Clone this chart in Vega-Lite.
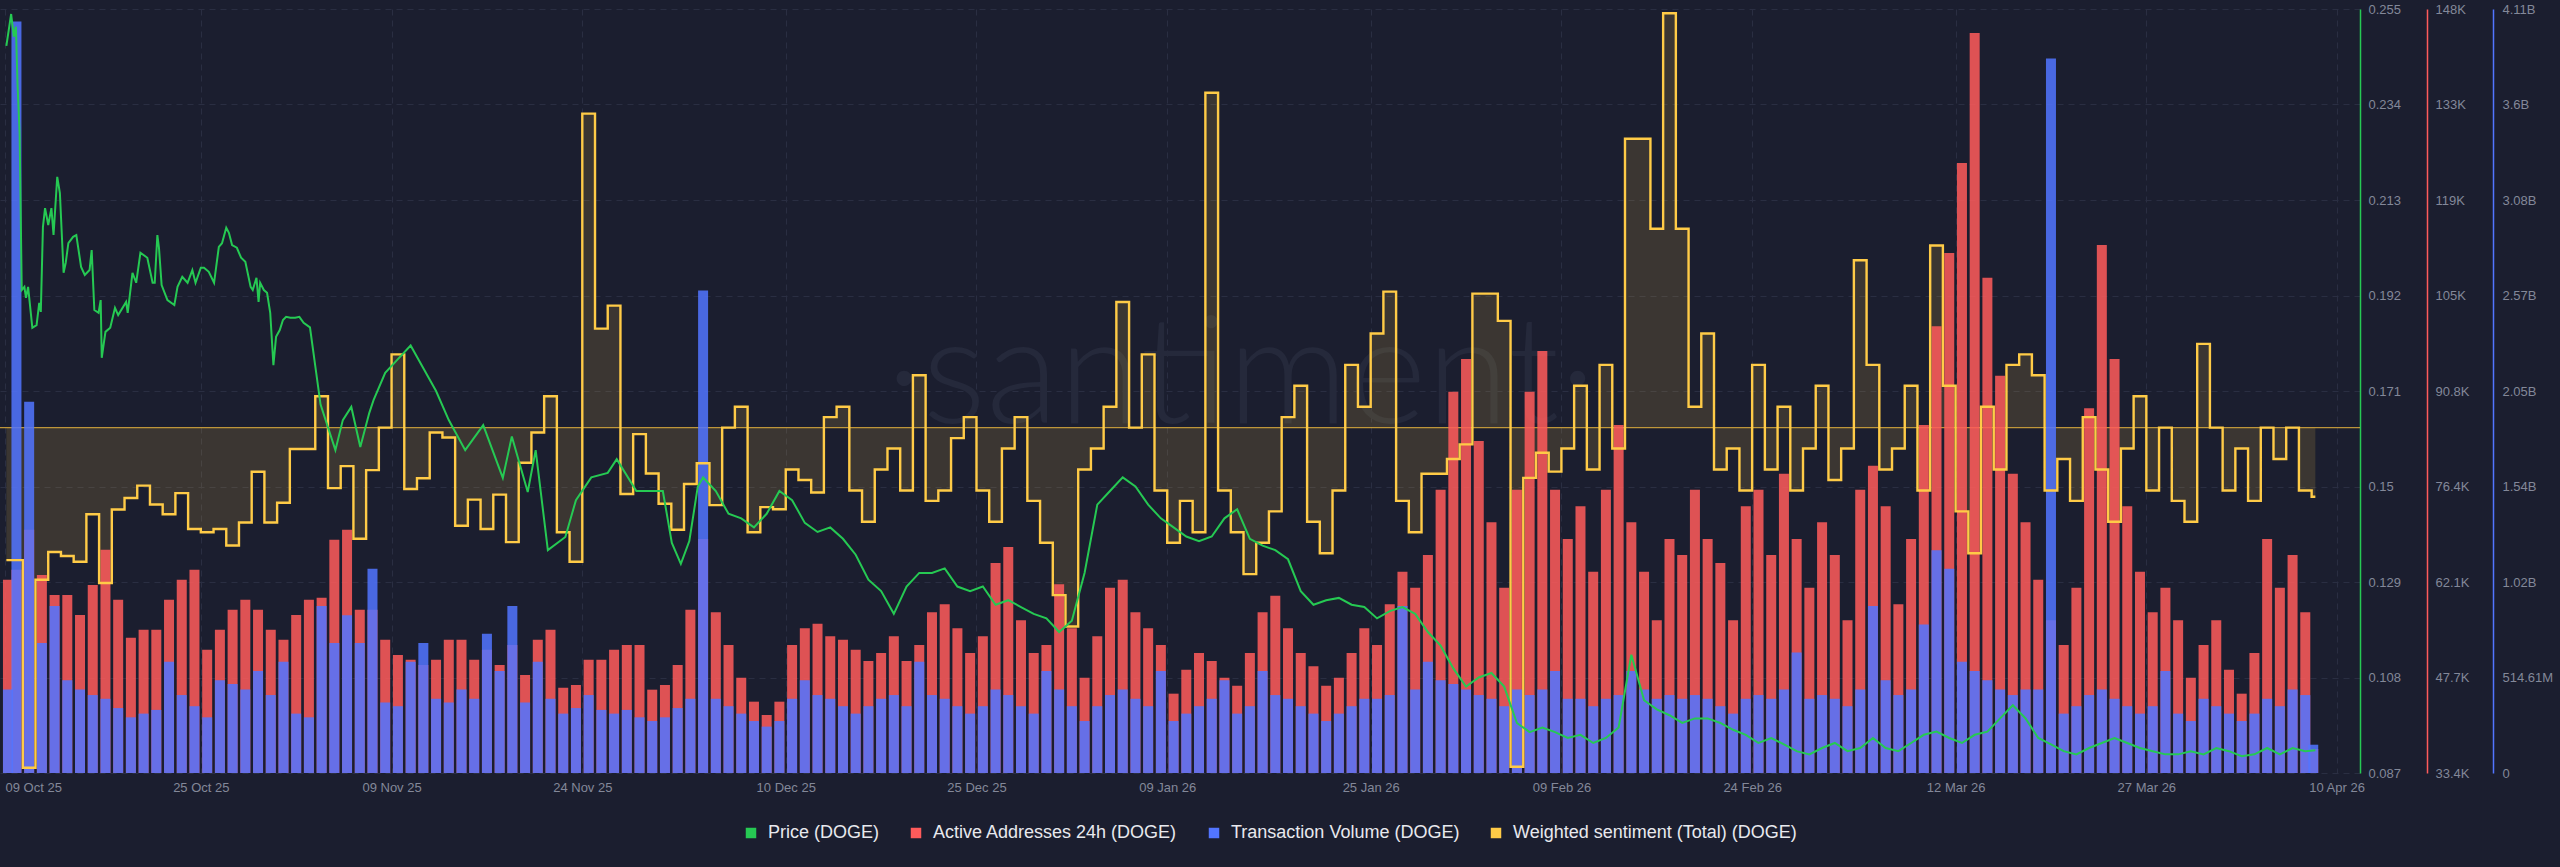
{
"$schema": "https://vega.github.io/schema/vega-lite/v6.json",
"width": 2360, "height": 764,
"autosize": {"type": "none"},
"padding": {"left": 0, "top": 9, "right": 200, "bottom": 94},
"background": "#1b1e2f",
"config": {
  "view": {"stroke": null},
  "font": "Liberation Sans",
  "axis": {"labelFont": "Liberation Sans", "labelFontSize": 13, "labelColor": "#838899", "ticks": false, "domain": false, "title": null, "labelOverlap": false, "gridColor": "#2a2e42", "gridDash": [6, 5], "gridWidth": 1}
},
"datasets": {
"bars": [
{"date":"2025-10-09T20:00:00Z","aa":62400,"vol":450000000},
{"date":"2025-10-10T12:00:00Z","aa":63900,"vol":4050000000},
{"date":"2025-10-11T12:00:00Z","aa":69900,"vol":2000000000},
{"date":"2025-10-12T12:00:00Z","aa":63100,"vol":700000000},
{"date":"2025-10-13T12:00:00Z","aa":60100,"vol":900000000},
{"date":"2025-10-14T12:00:00Z","aa":60100,"vol":500000000},
{"date":"2025-10-15T12:00:00Z","aa":57100,"vol":450000000},
{"date":"2025-10-16T12:00:00Z","aa":61600,"vol":420000000},
{"date":"2025-10-17T12:00:00Z","aa":66900,"vol":400000000},
{"date":"2025-10-18T12:00:00Z","aa":59400,"vol":350000000},
{"date":"2025-10-19T12:00:00Z","aa":53700,"vol":300000000},
{"date":"2025-10-20T12:00:00Z","aa":54900,"vol":320000000},
{"date":"2025-10-21T12:00:00Z","aa":54900,"vol":340000000},
{"date":"2025-10-22T12:00:00Z","aa":59400,"vol":600000000},
{"date":"2025-10-23T12:00:00Z","aa":62400,"vol":420000000},
{"date":"2025-10-24T12:00:00Z","aa":63900,"vol":360000000},
{"date":"2025-10-25T12:00:00Z","aa":51900,"vol":300000000},
{"date":"2025-10-26T12:00:00Z","aa":54900,"vol":500000000},
{"date":"2025-10-27T12:00:00Z","aa":57900,"vol":480000000},
{"date":"2025-10-28T12:00:00Z","aa":59400,"vol":450000000},
{"date":"2025-10-29T12:00:00Z","aa":57900,"vol":550000000},
{"date":"2025-10-30T12:00:00Z","aa":54900,"vol":420000000},
{"date":"2025-10-31T12:00:00Z","aa":53400,"vol":600000000},
{"date":"2025-11-01T12:00:00Z","aa":57100,"vol":320000000},
{"date":"2025-11-02T12:00:00Z","aa":59400,"vol":300000000},
{"date":"2025-11-03T12:00:00Z","aa":59700,"vol":900000000},
{"date":"2025-11-04T12:00:00Z","aa":68400,"vol":700000000},
{"date":"2025-11-05T12:00:00Z","aa":69900,"vol":850000000},
{"date":"2025-11-06T12:00:00Z","aa":57900,"vol":700000000},
{"date":"2025-11-07T12:00:00Z","aa":57900,"vol":1100000000},
{"date":"2025-11-08T12:00:00Z","aa":53400,"vol":380000000},
{"date":"2025-11-09T12:00:00Z","aa":51100,"vol":360000000},
{"date":"2025-11-10T12:00:00Z","aa":50400,"vol":600000000},
{"date":"2025-11-11T12:00:00Z","aa":49600,"vol":700000000},
{"date":"2025-11-12T12:00:00Z","aa":50400,"vol":400000000},
{"date":"2025-11-13T12:00:00Z","aa":53400,"vol":380000000},
{"date":"2025-11-14T12:00:00Z","aa":53400,"vol":450000000},
{"date":"2025-11-15T12:00:00Z","aa":50400,"vol":400000000},
{"date":"2025-11-16T12:00:00Z","aa":51900,"vol":750000000},
{"date":"2025-11-17T12:00:00Z","aa":49600,"vol":550000000},
{"date":"2025-11-18T12:00:00Z","aa":52600,"vol":900000000},
{"date":"2025-11-19T12:00:00Z","aa":48100,"vol":380000000},
{"date":"2025-11-20T12:00:00Z","aa":53400,"vol":600000000},
{"date":"2025-11-21T12:00:00Z","aa":54900,"vol":400000000},
{"date":"2025-11-22T12:00:00Z","aa":46200,"vol":320000000},
{"date":"2025-11-23T12:00:00Z","aa":46600,"vol":350000000},
{"date":"2025-11-24T12:00:00Z","aa":50400,"vol":420000000},
{"date":"2025-11-25T12:00:00Z","aa":50400,"vol":340000000},
{"date":"2025-11-26T12:00:00Z","aa":51900,"vol":320000000},
{"date":"2025-11-27T12:00:00Z","aa":52600,"vol":340000000},
{"date":"2025-11-28T12:00:00Z","aa":52600,"vol":300000000},
{"date":"2025-11-29T12:00:00Z","aa":45900,"vol":280000000},
{"date":"2025-11-30T12:00:00Z","aa":46600,"vol":300000000},
{"date":"2025-12-01T12:00:00Z","aa":49600,"vol":350000000},
{"date":"2025-12-02T12:00:00Z","aa":57900,"vol":400000000},
{"date":"2025-12-03T12:00:00Z","aa":68500,"vol":2600000000},
{"date":"2025-12-04T12:00:00Z","aa":57500,"vol":400000000},
{"date":"2025-12-05T12:00:00Z","aa":52600,"vol":360000000},
{"date":"2025-12-06T12:00:00Z","aa":47700,"vol":320000000},
{"date":"2025-12-07T12:00:00Z","aa":44100,"vol":280000000},
{"date":"2025-12-08T12:00:00Z","aa":42100,"vol":250000000},
{"date":"2025-12-09T12:00:00Z","aa":44100,"vol":280000000},
{"date":"2025-12-10T12:00:00Z","aa":52600,"vol":400000000},
{"date":"2025-12-11T12:00:00Z","aa":55100,"vol":500000000},
{"date":"2025-12-12T12:00:00Z","aa":55800,"vol":420000000},
{"date":"2025-12-13T12:00:00Z","aa":53900,"vol":400000000},
{"date":"2025-12-14T12:00:00Z","aa":53400,"vol":360000000},
{"date":"2025-12-15T12:00:00Z","aa":51900,"vol":320000000},
{"date":"2025-12-16T12:00:00Z","aa":50200,"vol":360000000},
{"date":"2025-12-17T12:00:00Z","aa":51400,"vol":400000000},
{"date":"2025-12-18T12:00:00Z","aa":53900,"vol":420000000},
{"date":"2025-12-19T12:00:00Z","aa":50200,"vol":360000000},
{"date":"2025-12-20T12:00:00Z","aa":52600,"vol":600000000},
{"date":"2025-12-21T12:00:00Z","aa":57500,"vol":420000000},
{"date":"2025-12-22T12:00:00Z","aa":58700,"vol":400000000},
{"date":"2025-12-23T12:00:00Z","aa":55100,"vol":360000000},
{"date":"2025-12-24T12:00:00Z","aa":51400,"vol":320000000},
{"date":"2025-12-25T12:00:00Z","aa":53900,"vol":360000000},
{"date":"2025-12-26T12:00:00Z","aa":64900,"vol":450000000},
{"date":"2025-12-27T12:00:00Z","aa":67300,"vol":420000000},
{"date":"2025-12-28T12:00:00Z","aa":56300,"vol":360000000},
{"date":"2025-12-29T12:00:00Z","aa":51400,"vol":320000000},
{"date":"2025-12-30T12:00:00Z","aa":52600,"vol":550000000},
{"date":"2025-12-31T12:00:00Z","aa":61700,"vol":450000000},
{"date":"2026-01-01T12:00:00Z","aa":55100,"vol":360000000},
{"date":"2026-01-02T12:00:00Z","aa":47700,"vol":280000000},
{"date":"2026-01-03T12:00:00Z","aa":53900,"vol":360000000},
{"date":"2026-01-04T12:00:00Z","aa":61200,"vol":420000000},
{"date":"2026-01-05T12:00:00Z","aa":62400,"vol":450000000},
{"date":"2026-01-06T12:00:00Z","aa":57500,"vol":400000000},
{"date":"2026-01-07T12:00:00Z","aa":55100,"vol":360000000},
{"date":"2026-01-08T12:00:00Z","aa":52600,"vol":550000000},
{"date":"2026-01-09T12:00:00Z","aa":45300,"vol":280000000},
{"date":"2026-01-10T12:00:00Z","aa":48900,"vol":320000000},
{"date":"2026-01-11T12:00:00Z","aa":51400,"vol":360000000},
{"date":"2026-01-12T12:00:00Z","aa":50200,"vol":400000000},
{"date":"2026-01-13T12:00:00Z","aa":47700,"vol":500000000},
{"date":"2026-01-14T12:00:00Z","aa":46500,"vol":320000000},
{"date":"2026-01-15T12:00:00Z","aa":51400,"vol":360000000},
{"date":"2026-01-16T12:00:00Z","aa":57500,"vol":550000000},
{"date":"2026-01-17T12:00:00Z","aa":60000,"vol":420000000},
{"date":"2026-01-18T12:00:00Z","aa":55100,"vol":400000000},
{"date":"2026-01-19T12:00:00Z","aa":51400,"vol":360000000},
{"date":"2026-01-20T12:00:00Z","aa":49400,"vol":320000000},
{"date":"2026-01-21T12:00:00Z","aa":46500,"vol":280000000},
{"date":"2026-01-22T12:00:00Z","aa":47700,"vol":320000000},
{"date":"2026-01-23T12:00:00Z","aa":51400,"vol":360000000},
{"date":"2026-01-24T12:00:00Z","aa":55100,"vol":400000000},
{"date":"2026-01-25T12:00:00Z","aa":52600,"vol":400000000},
{"date":"2026-01-26T12:00:00Z","aa":58700,"vol":420000000},
{"date":"2026-01-27T12:00:00Z","aa":63600,"vol":900000000},
{"date":"2026-01-28T12:00:00Z","aa":61200,"vol":450000000},
{"date":"2026-01-29T12:00:00Z","aa":66100,"vol":600000000},
{"date":"2026-01-30T12:00:00Z","aa":75900,"vol":500000000},
{"date":"2026-01-31T12:00:00Z","aa":90600,"vol":480000000},
{"date":"2026-02-01T12:00:00Z","aa":95500,"vol":450000000},
{"date":"2026-02-02T12:00:00Z","aa":83200,"vol":420000000},
{"date":"2026-02-03T12:00:00Z","aa":71000,"vol":400000000},
{"date":"2026-02-04T12:00:00Z","aa":61200,"vol":360000000},
{"date":"2026-02-05T12:00:00Z","aa":75900,"vol":450000000},
{"date":"2026-02-06T12:00:00Z","aa":90600,"vol":420000000},
{"date":"2026-02-07T12:00:00Z","aa":96700,"vol":450000000},
{"date":"2026-02-08T12:00:00Z","aa":75900,"vol":550000000},
{"date":"2026-02-09T12:00:00Z","aa":68500,"vol":400000000},
{"date":"2026-02-10T12:00:00Z","aa":73400,"vol":400000000},
{"date":"2026-02-11T12:00:00Z","aa":63600,"vol":360000000},
{"date":"2026-02-12T12:00:00Z","aa":75900,"vol":400000000},
{"date":"2026-02-13T12:00:00Z","aa":85600,"vol":420000000},
{"date":"2026-02-14T12:00:00Z","aa":71000,"vol":550000000},
{"date":"2026-02-15T12:00:00Z","aa":63600,"vol":450000000},
{"date":"2026-02-16T12:00:00Z","aa":56300,"vol":400000000},
{"date":"2026-02-17T12:00:00Z","aa":68500,"vol":420000000},
{"date":"2026-02-18T12:00:00Z","aa":66100,"vol":400000000},
{"date":"2026-02-19T12:00:00Z","aa":75900,"vol":420000000},
{"date":"2026-02-20T12:00:00Z","aa":68500,"vol":400000000},
{"date":"2026-02-21T12:00:00Z","aa":64900,"vol":360000000},
{"date":"2026-02-22T12:00:00Z","aa":56300,"vol":320000000},
{"date":"2026-02-23T12:00:00Z","aa":73400,"vol":400000000},
{"date":"2026-02-24T12:00:00Z","aa":75900,"vol":420000000},
{"date":"2026-02-25T12:00:00Z","aa":66100,"vol":400000000},
{"date":"2026-02-26T12:00:00Z","aa":78300,"vol":450000000},
{"date":"2026-02-27T12:00:00Z","aa":68500,"vol":650000000},
{"date":"2026-02-28T12:00:00Z","aa":61200,"vol":400000000},
{"date":"2026-03-01T12:00:00Z","aa":71000,"vol":420000000},
{"date":"2026-03-02T12:00:00Z","aa":66100,"vol":400000000},
{"date":"2026-03-03T12:00:00Z","aa":56300,"vol":360000000},
{"date":"2026-03-04T12:00:00Z","aa":75900,"vol":450000000},
{"date":"2026-03-05T12:00:00Z","aa":79500,"vol":900000000},
{"date":"2026-03-06T12:00:00Z","aa":73400,"vol":500000000},
{"date":"2026-03-07T12:00:00Z","aa":58700,"vol":420000000},
{"date":"2026-03-08T12:00:00Z","aa":68500,"vol":450000000},
{"date":"2026-03-09T12:00:00Z","aa":85600,"vol":800000000},
{"date":"2026-03-10T12:00:00Z","aa":100400,"vol":1200000000},
{"date":"2026-03-11T12:00:00Z","aa":111400,"vol":1100000000},
{"date":"2026-03-12T12:00:00Z","aa":124900,"vol":600000000},
{"date":"2026-03-13T12:00:00Z","aa":144400,"vol":550000000},
{"date":"2026-03-14T12:00:00Z","aa":107700,"vol":500000000},
{"date":"2026-03-15T12:00:00Z","aa":93000,"vol":450000000},
{"date":"2026-03-16T12:00:00Z","aa":78300,"vol":420000000},
{"date":"2026-03-17T12:00:00Z","aa":71000,"vol":450000000},
{"date":"2026-03-18T12:00:00Z","aa":62400,"vol":450000000},
{"date":"2026-03-19T12:00:00Z","aa":56300,"vol":3850000000},
{"date":"2026-03-20T12:00:00Z","aa":52600,"vol":320000000},
{"date":"2026-03-21T12:00:00Z","aa":61200,"vol":360000000},
{"date":"2026-03-22T12:00:00Z","aa":88100,"vol":420000000},
{"date":"2026-03-23T12:00:00Z","aa":112600,"vol":450000000},
{"date":"2026-03-24T12:00:00Z","aa":95500,"vol":400000000},
{"date":"2026-03-25T12:00:00Z","aa":73400,"vol":360000000},
{"date":"2026-03-26T12:00:00Z","aa":63600,"vol":320000000},
{"date":"2026-03-27T12:00:00Z","aa":57500,"vol":360000000},
{"date":"2026-03-28T12:00:00Z","aa":61200,"vol":550000000},
{"date":"2026-03-29T12:00:00Z","aa":56300,"vol":320000000},
{"date":"2026-03-30T12:00:00Z","aa":47700,"vol":280000000},
{"date":"2026-03-31T12:00:00Z","aa":52600,"vol":400000000},
{"date":"2026-04-01T12:00:00Z","aa":56300,"vol":360000000},
{"date":"2026-04-02T12:00:00Z","aa":48900,"vol":320000000},
{"date":"2026-04-03T12:00:00Z","aa":45300,"vol":280000000},
{"date":"2026-04-04T12:00:00Z","aa":51400,"vol":320000000},
{"date":"2026-04-05T12:00:00Z","aa":68500,"vol":400000000},
{"date":"2026-04-06T12:00:00Z","aa":61200,"vol":360000000},
{"date":"2026-04-07T12:00:00Z","aa":66100,"vol":450000000},
{"date":"2026-04-08T12:00:00Z","aa":57500,"vol":420000000},
{"date":"2026-04-09T03:00:00Z","aa":37000,"vol":152460000}
],
"price": [
{"date":"2025-10-09T17:00:00Z","price":0.2469},
{"date":"2025-10-10T02:00:00Z","price":0.2539},
{"date":"2025-10-10T07:00:00Z","price":0.2489},
{"date":"2025-10-10T11:00:00Z","price":0.2511},
{"date":"2025-10-10T14:00:00Z","price":0.2387},
{"date":"2025-10-10T18:00:00Z","price":0.2277},
{"date":"2025-10-10T22:00:00Z","price":0.1932},
{"date":"2025-10-11T03:00:00Z","price":0.1939},
{"date":"2025-10-11T06:00:00Z","price":0.1915},
{"date":"2025-10-11T10:00:00Z","price":0.1939},
{"date":"2025-10-11T18:00:00Z","price":0.1849},
{"date":"2025-10-12T02:00:00Z","price":0.1855},
{"date":"2025-10-12T07:00:00Z","price":0.1904},
{"date":"2025-10-12T10:00:00Z","price":0.1884},
{"date":"2025-10-12T14:00:00Z","price":0.2071},
{"date":"2025-10-12T18:00:00Z","price":0.2112},
{"date":"2025-10-13T00:00:00Z","price":0.2075},
{"date":"2025-10-13T06:00:00Z","price":0.2112},
{"date":"2025-10-13T10:00:00Z","price":0.2053},
{"date":"2025-10-13T17:00:00Z","price":0.2181},
{"date":"2025-10-13T22:00:00Z","price":0.2145},
{"date":"2025-10-14T05:00:00Z","price":0.1970},
{"date":"2025-10-14T09:00:00Z","price":0.1992},
{"date":"2025-10-14T14:00:00Z","price":0.2035},
{"date":"2025-10-14T23:00:00Z","price":0.2049},
{"date":"2025-10-15T05:00:00Z","price":0.2053},
{"date":"2025-10-15T14:00:00Z","price":0.1983},
{"date":"2025-10-15T21:00:00Z","price":0.1965},
{"date":"2025-10-16T06:00:00Z","price":0.1976},
{"date":"2025-10-16T10:00:00Z","price":0.2020},
{"date":"2025-10-16T15:00:00Z","price":0.1888},
{"date":"2025-10-16T23:00:00Z","price":0.1882},
{"date":"2025-10-17T03:00:00Z","price":0.1910},
{"date":"2025-10-17T05:00:00Z","price":0.1783},
{"date":"2025-10-17T12:00:00Z","price":0.1840},
{"date":"2025-10-17T21:00:00Z","price":0.1849},
{"date":"2025-10-18T06:00:00Z","price":0.1893},
{"date":"2025-10-18T12:00:00Z","price":0.1877},
{"date":"2025-10-19T03:00:00Z","price":0.1906},
{"date":"2025-10-19T06:00:00Z","price":0.1882},
{"date":"2025-10-19T15:00:00Z","price":0.1970},
{"date":"2025-10-19T22:00:00Z","price":0.1948},
{"date":"2025-10-20T06:00:00Z","price":0.2014},
{"date":"2025-10-20T19:00:00Z","price":0.2003},
{"date":"2025-10-21T05:00:00Z","price":0.1948},
{"date":"2025-10-21T09:00:00Z","price":0.1948},
{"date":"2025-10-21T14:00:00Z","price":0.2053},
{"date":"2025-10-21T17:00:00Z","price":0.2025},
{"date":"2025-10-21T22:00:00Z","price":0.1943},
{"date":"2025-10-22T09:00:00Z","price":0.1910},
{"date":"2025-10-22T22:00:00Z","price":0.1899},
{"date":"2025-10-23T04:00:00Z","price":0.1939},
{"date":"2025-10-23T13:00:00Z","price":0.1961},
{"date":"2025-10-23T23:00:00Z","price":0.1948},
{"date":"2025-10-24T08:00:00Z","price":0.1976},
{"date":"2025-10-24T14:00:00Z","price":0.1948},
{"date":"2025-10-25T00:00:00Z","price":0.1981},
{"date":"2025-10-25T06:00:00Z","price":0.1981},
{"date":"2025-10-25T15:00:00Z","price":0.1972},
{"date":"2025-10-26T01:00:00Z","price":0.1948},
{"date":"2025-10-26T10:00:00Z","price":0.2027},
{"date":"2025-10-26T16:00:00Z","price":0.2035},
{"date":"2025-10-27T00:00:00Z","price":0.2069},
{"date":"2025-10-27T05:00:00Z","price":0.2058},
{"date":"2025-10-27T11:00:00Z","price":0.2031},
{"date":"2025-10-27T20:00:00Z","price":0.2025},
{"date":"2025-10-28T04:00:00Z","price":0.2003},
{"date":"2025-10-28T12:00:00Z","price":0.1994},
{"date":"2025-10-28T22:00:00Z","price":0.1939},
{"date":"2025-10-29T02:00:00Z","price":0.1932},
{"date":"2025-10-29T09:00:00Z","price":0.1959},
{"date":"2025-10-29T13:00:00Z","price":0.1906},
{"date":"2025-10-29T16:00:00Z","price":0.1948},
{"date":"2025-10-29T23:00:00Z","price":0.1932},
{"date":"2025-10-30T05:00:00Z","price":0.1926},
{"date":"2025-10-30T11:00:00Z","price":0.1882},
{"date":"2025-10-30T17:00:00Z","price":0.1767},
{"date":"2025-10-30T22:00:00Z","price":0.1829},
{"date":"2025-10-31T05:00:00Z","price":0.1844},
{"date":"2025-10-31T11:00:00Z","price":0.1866},
{"date":"2025-10-31T17:00:00Z","price":0.1873},
{"date":"2025-11-01T01:00:00Z","price":0.1871},
{"date":"2025-11-01T10:00:00Z","price":0.1871},
{"date":"2025-11-01T18:00:00Z","price":0.1873},
{"date":"2025-11-02T02:00:00Z","price":0.1860},
{"date":"2025-11-02T14:00:00Z","price":0.1850},
{"date":"2025-11-03T10:00:00Z","price":0.1680},
{"date":"2025-11-04T14:00:00Z","price":0.1580},
{"date":"2025-11-05T04:00:00Z","price":0.1646},
{"date":"2025-11-05T20:00:00Z","price":0.1675},
{"date":"2025-11-06T13:00:00Z","price":0.1587},
{"date":"2025-11-07T06:00:00Z","price":0.1662},
{"date":"2025-11-07T14:00:00Z","price":0.1690},
{"date":"2025-11-08T12:00:00Z","price":0.1750},
{"date":"2025-11-09T12:00:00Z","price":0.1780},
{"date":"2025-11-10T12:00:00Z","price":0.1810},
{"date":"2025-11-11T12:00:00Z","price":0.1760},
{"date":"2025-11-12T12:00:00Z","price":0.1710},
{"date":"2025-11-13T12:00:00Z","price":0.1646},
{"date":"2025-11-14T19:00:00Z","price":0.1580},
{"date":"2025-11-16T05:00:00Z","price":0.1635},
{"date":"2025-11-17T18:00:00Z","price":0.1519},
{"date":"2025-11-18T11:00:00Z","price":0.1610},
{"date":"2025-11-19T17:00:00Z","price":0.1488},
{"date":"2025-11-20T08:00:00Z","price":0.1580},
{"date":"2025-11-21T07:00:00Z","price":0.1360},
{"date":"2025-11-22T16:00:00Z","price":0.1389},
{"date":"2025-11-23T12:00:00Z","price":0.1470},
{"date":"2025-11-24T17:00:00Z","price":0.1520},
{"date":"2025-11-26T00:00:00Z","price":0.1530},
{"date":"2025-11-26T17:00:00Z","price":0.1560},
{"date":"2025-11-28T06:00:00Z","price":0.1490},
{"date":"2025-11-30T08:00:00Z","price":0.1490},
{"date":"2025-12-01T01:00:00Z","price":0.1376},
{"date":"2025-12-01T18:00:00Z","price":0.1330},
{"date":"2025-12-02T10:00:00Z","price":0.1380},
{"date":"2025-12-03T02:00:00Z","price":0.1500},
{"date":"2025-12-03T12:00:00Z","price":0.1520},
{"date":"2025-12-04T12:00:00Z","price":0.149},
{"date":"2025-12-05T12:00:00Z","price":0.144},
{"date":"2025-12-06T12:00:00Z","price":0.143},
{"date":"2025-12-07T12:00:00Z","price":0.141},
{"date":"2025-12-08T12:00:00Z","price":0.144},
{"date":"2025-12-09T12:00:00Z","price":0.149},
{"date":"2025-12-10T12:00:00Z","price":0.147},
{"date":"2025-12-11T12:00:00Z","price":0.142},
{"date":"2025-12-12T12:00:00Z","price":0.140},
{"date":"2025-12-13T12:00:00Z","price":0.141},
{"date":"2025-12-14T12:00:00Z","price":0.1385},
{"date":"2025-12-15T12:00:00Z","price":0.135},
{"date":"2025-12-16T12:00:00Z","price":0.1295},
{"date":"2025-12-17T12:00:00Z","price":0.127},
{"date":"2025-12-18T12:00:00Z","price":0.122},
{"date":"2025-12-19T12:00:00Z","price":0.128},
{"date":"2025-12-20T12:00:00Z","price":0.131},
{"date":"2025-12-21T12:00:00Z","price":0.131},
{"date":"2025-12-22T12:00:00Z","price":0.132},
{"date":"2025-12-23T12:00:00Z","price":0.128},
{"date":"2025-12-24T12:00:00Z","price":0.127},
{"date":"2025-12-25T12:00:00Z","price":0.128},
{"date":"2025-12-26T12:00:00Z","price":0.124},
{"date":"2025-12-27T12:00:00Z","price":0.125},
{"date":"2025-12-28T12:00:00Z","price":0.1235},
{"date":"2025-12-29T12:00:00Z","price":0.122},
{"date":"2025-12-30T12:00:00Z","price":0.121},
{"date":"2025-12-31T12:00:00Z","price":0.118},
{"date":"2026-01-01T12:00:00Z","price":0.1205},
{"date":"2026-01-02T12:00:00Z","price":0.131},
{"date":"2026-01-03T12:00:00Z","price":0.146},
{"date":"2026-01-04T12:00:00Z","price":0.149},
{"date":"2026-01-05T12:00:00Z","price":0.152},
{"date":"2026-01-06T12:00:00Z","price":0.150},
{"date":"2026-01-07T12:00:00Z","price":0.146},
{"date":"2026-01-08T12:00:00Z","price":0.143},
{"date":"2026-01-09T12:00:00Z","price":0.141},
{"date":"2026-01-10T12:00:00Z","price":0.139},
{"date":"2026-01-11T12:00:00Z","price":0.138},
{"date":"2026-01-12T12:00:00Z","price":0.139},
{"date":"2026-01-13T12:00:00Z","price":0.143},
{"date":"2026-01-14T12:00:00Z","price":0.145},
{"date":"2026-01-15T12:00:00Z","price":0.1385},
{"date":"2026-01-16T12:00:00Z","price":0.137},
{"date":"2026-01-17T12:00:00Z","price":0.136},
{"date":"2026-01-18T12:00:00Z","price":0.134},
{"date":"2026-01-19T12:00:00Z","price":0.127},
{"date":"2026-01-20T12:00:00Z","price":0.124},
{"date":"2026-01-21T12:00:00Z","price":0.125},
{"date":"2026-01-22T12:00:00Z","price":0.1255},
{"date":"2026-01-23T12:00:00Z","price":0.124},
{"date":"2026-01-24T12:00:00Z","price":0.1235},
{"date":"2026-01-25T12:00:00Z","price":0.121},
{"date":"2026-01-26T12:00:00Z","price":0.1226},
{"date":"2026-01-27T12:00:00Z","price":0.1235},
{"date":"2026-01-28T12:00:00Z","price":0.122},
{"date":"2026-01-29T12:00:00Z","price":0.118},
{"date":"2026-01-30T12:00:00Z","price":0.115},
{"date":"2026-01-31T12:00:00Z","price":0.110},
{"date":"2026-02-01T12:00:00Z","price":0.106},
{"date":"2026-02-02T12:00:00Z","price":0.108},
{"date":"2026-02-03T12:00:00Z","price":0.109},
{"date":"2026-02-04T12:00:00Z","price":0.106},
{"date":"2026-02-05T12:00:00Z","price":0.098},
{"date":"2026-02-06T12:00:00Z","price":0.096},
{"date":"2026-02-07T12:00:00Z","price":0.097},
{"date":"2026-02-08T12:00:00Z","price":0.096},
{"date":"2026-02-09T12:00:00Z","price":0.0947},
{"date":"2026-02-10T12:00:00Z","price":0.0954},
{"date":"2026-02-11T12:00:00Z","price":0.0936},
{"date":"2026-02-12T12:00:00Z","price":0.0947},
{"date":"2026-02-13T12:00:00Z","price":0.097},
{"date":"2026-02-14T12:00:00Z","price":0.113},
{"date":"2026-02-15T12:00:00Z","price":0.103},
{"date":"2026-02-16T12:00:00Z","price":0.101},
{"date":"2026-02-17T12:00:00Z","price":0.0997},
{"date":"2026-02-18T12:00:00Z","price":0.098},
{"date":"2026-02-19T12:00:00Z","price":0.099},
{"date":"2026-02-20T12:00:00Z","price":0.099},
{"date":"2026-02-21T12:00:00Z","price":0.098},
{"date":"2026-02-22T12:00:00Z","price":0.0965},
{"date":"2026-02-23T12:00:00Z","price":0.0954},
{"date":"2026-02-24T12:00:00Z","price":0.0936},
{"date":"2026-02-25T12:00:00Z","price":0.0947},
{"date":"2026-02-26T12:00:00Z","price":0.0933},
{"date":"2026-02-27T12:00:00Z","price":0.0918},
{"date":"2026-02-28T12:00:00Z","price":0.0911},
{"date":"2026-03-01T12:00:00Z","price":0.0925},
{"date":"2026-03-02T12:00:00Z","price":0.0936},
{"date":"2026-03-03T12:00:00Z","price":0.0918},
{"date":"2026-03-04T12:00:00Z","price":0.0925},
{"date":"2026-03-05T12:00:00Z","price":0.0947},
{"date":"2026-03-06T12:00:00Z","price":0.0925},
{"date":"2026-03-07T12:00:00Z","price":0.0918},
{"date":"2026-03-08T12:00:00Z","price":0.0936},
{"date":"2026-03-09T12:00:00Z","price":0.0954},
{"date":"2026-03-10T12:00:00Z","price":0.0961},
{"date":"2026-03-11T12:00:00Z","price":0.0947},
{"date":"2026-03-12T12:00:00Z","price":0.0936},
{"date":"2026-03-13T12:00:00Z","price":0.0954},
{"date":"2026-03-14T12:00:00Z","price":0.0961},
{"date":"2026-03-15T12:00:00Z","price":0.099},
{"date":"2026-03-16T12:00:00Z","price":0.1019},
{"date":"2026-03-17T12:00:00Z","price":0.099},
{"date":"2026-03-18T12:00:00Z","price":0.0947},
{"date":"2026-03-19T12:00:00Z","price":0.0933},
{"date":"2026-03-20T12:00:00Z","price":0.0918},
{"date":"2026-03-21T12:00:00Z","price":0.0911},
{"date":"2026-03-22T12:00:00Z","price":0.0925},
{"date":"2026-03-23T12:00:00Z","price":0.0936},
{"date":"2026-03-24T12:00:00Z","price":0.0947},
{"date":"2026-03-25T12:00:00Z","price":0.0936},
{"date":"2026-03-26T12:00:00Z","price":0.0925},
{"date":"2026-03-27T12:00:00Z","price":0.0918},
{"date":"2026-03-28T12:00:00Z","price":0.0911},
{"date":"2026-03-29T12:00:00Z","price":0.0911},
{"date":"2026-03-30T12:00:00Z","price":0.0918},
{"date":"2026-03-31T12:00:00Z","price":0.0911},
{"date":"2026-04-01T12:00:00Z","price":0.0925},
{"date":"2026-04-02T12:00:00Z","price":0.0918},
{"date":"2026-04-03T12:00:00Z","price":0.0907},
{"date":"2026-04-04T12:00:00Z","price":0.0911},
{"date":"2026-04-05T12:00:00Z","price":0.0925},
{"date":"2026-04-06T12:00:00Z","price":0.0911},
{"date":"2026-04-07T12:00:00Z","price":0.0925},
{"date":"2026-04-08T12:00:00Z","price":0.0918},
{"date":"2026-04-09T07:00:00Z","price":0.0920}
],
"sent": [
{"date":"2025-10-09T17:00:00Z","sent":-0.633},
{"date":"2025-10-10T00:00:00Z","sent":-0.633},
{"date":"2025-10-11T00:00:00Z","sent":-1.625},
{"date":"2025-10-12T00:00:00Z","sent":-0.727},
{"date":"2025-10-13T00:00:00Z","sent":-0.594},
{"date":"2025-10-14T00:00:00Z","sent":-0.613},
{"date":"2025-10-15T00:00:00Z","sent":-0.641},
{"date":"2025-10-16T00:00:00Z","sent":-0.414},
{"date":"2025-10-17T00:00:00Z","sent":-0.742},
{"date":"2025-10-18T00:00:00Z","sent":-0.391},
{"date":"2025-10-19T00:00:00Z","sent":-0.336},
{"date":"2025-10-20T00:00:00Z","sent":-0.277},
{"date":"2025-10-21T00:00:00Z","sent":-0.367},
{"date":"2025-10-22T00:00:00Z","sent":-0.414},
{"date":"2025-10-23T00:00:00Z","sent":-0.313},
{"date":"2025-10-24T00:00:00Z","sent":-0.484},
{"date":"2025-10-25T00:00:00Z","sent":-0.5},
{"date":"2025-10-26T00:00:00Z","sent":-0.484},
{"date":"2025-10-27T00:00:00Z","sent":-0.563},
{"date":"2025-10-28T00:00:00Z","sent":-0.453},
{"date":"2025-10-29T00:00:00Z","sent":-0.211},
{"date":"2025-10-30T00:00:00Z","sent":-0.453},
{"date":"2025-10-31T00:00:00Z","sent":-0.359},
{"date":"2025-11-01T00:00:00Z","sent":-0.102},
{"date":"2025-11-02T00:00:00Z","sent":-0.102},
{"date":"2025-11-03T00:00:00Z","sent":0.15},
{"date":"2025-11-04T00:00:00Z","sent":-0.289},
{"date":"2025-11-05T00:00:00Z","sent":-0.184},
{"date":"2025-11-06T00:00:00Z","sent":-0.531},
{"date":"2025-11-07T00:00:00Z","sent":-0.203},
{"date":"2025-11-08T00:00:00Z","sent":0.0},
{"date":"2025-11-09T00:00:00Z","sent":0.35},
{"date":"2025-11-10T00:00:00Z","sent":-0.293},
{"date":"2025-11-11T00:00:00Z","sent":-0.242},
{"date":"2025-11-12T00:00:00Z","sent":-0.023},
{"date":"2025-11-13T00:00:00Z","sent":-0.047},
{"date":"2025-11-14T00:00:00Z","sent":-0.469},
{"date":"2025-11-15T00:00:00Z","sent":-0.344},
{"date":"2025-11-16T00:00:00Z","sent":-0.484},
{"date":"2025-11-17T00:00:00Z","sent":-0.32},
{"date":"2025-11-18T00:00:00Z","sent":-0.547},
{"date":"2025-11-19T00:00:00Z","sent":-0.168},
{"date":"2025-11-20T00:00:00Z","sent":-0.023},
{"date":"2025-11-21T00:00:00Z","sent":0.15},
{"date":"2025-11-22T00:00:00Z","sent":-0.5},
{"date":"2025-11-23T00:00:00Z","sent":-0.641},
{"date":"2025-11-24T00:00:00Z","sent":1.5},
{"date":"2025-11-25T00:00:00Z","sent":0.473},
{"date":"2025-11-26T00:00:00Z","sent":0.583},
{"date":"2025-11-27T00:00:00Z","sent":-0.317},
{"date":"2025-11-28T00:00:00Z","sent":-0.031},
{"date":"2025-11-29T00:00:00Z","sent":-0.219},
{"date":"2025-11-30T00:00:00Z","sent":-0.364},
{"date":"2025-12-01T00:00:00Z","sent":-0.488},
{"date":"2025-12-02T00:00:00Z","sent":-0.269},
{"date":"2025-12-03T00:00:00Z","sent":-0.17},
{"date":"2025-12-04T00:00:00Z","sent":-0.37},
{"date":"2025-12-05T00:00:00Z","sent":0.0},
{"date":"2025-12-06T00:00:00Z","sent":0.1},
{"date":"2025-12-07T00:00:00Z","sent":-0.5},
{"date":"2025-12-08T00:00:00Z","sent":-0.38},
{"date":"2025-12-09T00:00:00Z","sent":-0.39},
{"date":"2025-12-10T00:00:00Z","sent":-0.2},
{"date":"2025-12-11T00:00:00Z","sent":-0.25},
{"date":"2025-12-12T00:00:00Z","sent":-0.31},
{"date":"2025-12-13T00:00:00Z","sent":0.05},
{"date":"2025-12-14T00:00:00Z","sent":0.1},
{"date":"2025-12-15T00:00:00Z","sent":-0.3},
{"date":"2025-12-16T00:00:00Z","sent":-0.45},
{"date":"2025-12-17T00:00:00Z","sent":-0.2},
{"date":"2025-12-18T00:00:00Z","sent":-0.1},
{"date":"2025-12-19T00:00:00Z","sent":-0.3},
{"date":"2025-12-20T00:00:00Z","sent":0.25},
{"date":"2025-12-21T00:00:00Z","sent":-0.35},
{"date":"2025-12-22T00:00:00Z","sent":-0.3},
{"date":"2025-12-23T00:00:00Z","sent":-0.05},
{"date":"2025-12-24T00:00:00Z","sent":0.05},
{"date":"2025-12-25T00:00:00Z","sent":-0.3},
{"date":"2025-12-26T00:00:00Z","sent":-0.45},
{"date":"2025-12-27T00:00:00Z","sent":-0.1},
{"date":"2025-12-28T00:00:00Z","sent":0.05},
{"date":"2025-12-29T00:00:00Z","sent":-0.35},
{"date":"2025-12-30T00:00:00Z","sent":-0.55},
{"date":"2025-12-31T00:00:00Z","sent":-0.8},
{"date":"2026-01-01T00:00:00Z","sent":-0.95},
{"date":"2026-01-02T00:00:00Z","sent":-0.2},
{"date":"2026-01-03T00:00:00Z","sent":-0.1},
{"date":"2026-01-04T00:00:00Z","sent":0.1},
{"date":"2026-01-05T00:00:00Z","sent":0.6},
{"date":"2026-01-06T00:00:00Z","sent":0.0},
{"date":"2026-01-07T00:00:00Z","sent":0.35},
{"date":"2026-01-08T00:00:00Z","sent":-0.3},
{"date":"2026-01-09T00:00:00Z","sent":-0.55},
{"date":"2026-01-10T00:00:00Z","sent":-0.35},
{"date":"2026-01-11T00:00:00Z","sent":-0.5},
{"date":"2026-01-12T00:00:00Z","sent":1.6},
{"date":"2026-01-13T00:00:00Z","sent":-0.3},
{"date":"2026-01-14T00:00:00Z","sent":-0.5},
{"date":"2026-01-15T00:00:00Z","sent":-0.7},
{"date":"2026-01-16T00:00:00Z","sent":-0.55},
{"date":"2026-01-17T00:00:00Z","sent":-0.4},
{"date":"2026-01-18T00:00:00Z","sent":0.05},
{"date":"2026-01-19T00:00:00Z","sent":0.2},
{"date":"2026-01-20T00:00:00Z","sent":-0.45},
{"date":"2026-01-21T00:00:00Z","sent":-0.6},
{"date":"2026-01-22T00:00:00Z","sent":-0.3},
{"date":"2026-01-23T00:00:00Z","sent":0.3},
{"date":"2026-01-24T00:00:00Z","sent":0.1},
{"date":"2026-01-25T00:00:00Z","sent":0.45},
{"date":"2026-01-26T00:00:00Z","sent":0.65},
{"date":"2026-01-27T00:00:00Z","sent":-0.35},
{"date":"2026-01-28T00:00:00Z","sent":-0.5},
{"date":"2026-01-29T00:00:00Z","sent":-0.22},
{"date":"2026-01-30T00:00:00Z","sent":-0.22},
{"date":"2026-01-31T00:00:00Z","sent":-0.15},
{"date":"2026-02-01T00:00:00Z","sent":-0.08},
{"date":"2026-02-02T00:00:00Z","sent":0.64},
{"date":"2026-02-03T00:00:00Z","sent":0.64},
{"date":"2026-02-04T00:00:00Z","sent":0.51},
{"date":"2026-02-05T00:00:00Z","sent":-1.62},
{"date":"2026-02-06T00:00:00Z","sent":-0.24},
{"date":"2026-02-07T00:00:00Z","sent":-0.12},
{"date":"2026-02-08T00:00:00Z","sent":-0.21},
{"date":"2026-02-09T00:00:00Z","sent":-0.1},
{"date":"2026-02-10T00:00:00Z","sent":0.2},
{"date":"2026-02-11T00:00:00Z","sent":-0.2},
{"date":"2026-02-12T00:00:00Z","sent":0.3},
{"date":"2026-02-13T00:00:00Z","sent":-0.1},
{"date":"2026-02-14T00:00:00Z","sent":1.38},
{"date":"2026-02-15T00:00:00Z","sent":1.38},
{"date":"2026-02-16T00:00:00Z","sent":0.95},
{"date":"2026-02-17T00:00:00Z","sent":1.98},
{"date":"2026-02-18T00:00:00Z","sent":0.95},
{"date":"2026-02-19T00:00:00Z","sent":0.1},
{"date":"2026-02-20T00:00:00Z","sent":0.45},
{"date":"2026-02-21T00:00:00Z","sent":-0.2},
{"date":"2026-02-22T00:00:00Z","sent":-0.1},
{"date":"2026-02-23T00:00:00Z","sent":-0.3},
{"date":"2026-02-24T00:00:00Z","sent":0.3},
{"date":"2026-02-25T00:00:00Z","sent":-0.2},
{"date":"2026-02-26T00:00:00Z","sent":0.1},
{"date":"2026-02-27T00:00:00Z","sent":-0.3},
{"date":"2026-02-28T00:00:00Z","sent":-0.1},
{"date":"2026-03-01T00:00:00Z","sent":0.2},
{"date":"2026-03-02T00:00:00Z","sent":-0.25},
{"date":"2026-03-03T00:00:00Z","sent":-0.1},
{"date":"2026-03-04T00:00:00Z","sent":0.8},
{"date":"2026-03-05T00:00:00Z","sent":0.3},
{"date":"2026-03-06T00:00:00Z","sent":-0.2},
{"date":"2026-03-07T00:00:00Z","sent":-0.1},
{"date":"2026-03-08T00:00:00Z","sent":0.2},
{"date":"2026-03-09T00:00:00Z","sent":-0.3},
{"date":"2026-03-10T00:00:00Z","sent":0.87},
{"date":"2026-03-11T00:00:00Z","sent":0.2},
{"date":"2026-03-12T00:00:00Z","sent":-0.4},
{"date":"2026-03-13T00:00:00Z","sent":-0.6},
{"date":"2026-03-14T00:00:00Z","sent":0.1},
{"date":"2026-03-15T00:00:00Z","sent":-0.2},
{"date":"2026-03-16T00:00:00Z","sent":0.3},
{"date":"2026-03-17T00:00:00Z","sent":0.35},
{"date":"2026-03-18T00:00:00Z","sent":0.25},
{"date":"2026-03-19T00:00:00Z","sent":-0.3},
{"date":"2026-03-20T00:00:00Z","sent":-0.15},
{"date":"2026-03-21T00:00:00Z","sent":-0.35},
{"date":"2026-03-22T00:00:00Z","sent":0.05},
{"date":"2026-03-23T00:00:00Z","sent":-0.2},
{"date":"2026-03-24T00:00:00Z","sent":-0.45},
{"date":"2026-03-25T00:00:00Z","sent":-0.1},
{"date":"2026-03-26T00:00:00Z","sent":0.15},
{"date":"2026-03-27T00:00:00Z","sent":-0.3},
{"date":"2026-03-28T00:00:00Z","sent":0.0},
{"date":"2026-03-29T00:00:00Z","sent":-0.35},
{"date":"2026-03-30T00:00:00Z","sent":-0.45},
{"date":"2026-03-31T00:00:00Z","sent":0.4},
{"date":"2026-04-01T00:00:00Z","sent":0.0},
{"date":"2026-04-02T00:00:00Z","sent":-0.3},
{"date":"2026-04-03T00:00:00Z","sent":-0.1},
{"date":"2026-04-04T00:00:00Z","sent":-0.35},
{"date":"2026-04-05T00:00:00Z","sent":0.0},
{"date":"2026-04-06T00:00:00Z","sent":-0.15},
{"date":"2026-04-07T00:00:00Z","sent":0.0},
{"date":"2026-04-08T00:00:00Z","sent":-0.3},
{"date":"2026-04-09T00:00:00Z","sent":-0.33},
{"date":"2026-04-09T07:00:00Z","sent":-0.33}
]
},
"layer": [
{
  "data": {"values": [{"label": "·santiment·"}]},
  "mark": {"type": "text", "font": "Lato", "fontWeight": 300, "fontSize": 150, "color": "#25293b", "align": "center", "baseline": "alphabetic"},
  "encoding": {
    "x": {"datum": {"year": 2026, "month": 1, "date": 14, "hours": 19, "utc": true}, "type": "temporal", "scale": {"type": "utc", "domain": [{"year": 2025, "month": 10, "date": 9, "hours": 14, "minutes": 24, "utc": true}, {"year": 2026, "month": 4, "date": 12, "hours": 9, "minutes": 50, "utc": true}]},
      "axis": {"values": [{"year": 2025, "month": 10, "date": 9, "hours": 14, "minutes": 24, "utc": true}, {"year": 2025, "month": 10, "date": 25, "utc": true}, {"year": 2025, "month": 11, "date": 9, "utc": true}, {"year": 2025, "month": 11, "date": 24, "utc": true}, {"year": 2025, "month": 12, "date": 10, "utc": true}, {"year": 2025, "month": 12, "date": 25, "utc": true}, {"year": 2026, "month": 1, "date": 9, "utc": true}, {"year": 2026, "month": 1, "date": 25, "utc": true}, {"year": 2026, "month": 2, "date": 9, "utc": true}, {"year": 2026, "month": 2, "date": 24, "utc": true}, {"year": 2026, "month": 3, "date": 12, "utc": true}, {"year": 2026, "month": 3, "date": 27, "utc": true}, {"year": 2026, "month": 4, "date": 10, "hours": 23, "utc": true}],
        "labelExpr": "utcFormat(datum.value, '%d %b %y')", "grid": true, "labelFlush": false,
        "labelAlign": {"condition": {"test": "datum.value < 1760100000000", "value": "left"}, "value": "center"},
        "labelPadding": 8, "orient": "bottom"}},
    "y": {"datum": 0.164, "type": "quantitative", "scale": {"domain": [0.087, 0.255], "nice": false, "zero": false}, "axis": null},
    "text": {"field": "label"}
  }
},
{
  "data": {"name": "sent"},
  "mark": {"type": "area", "interpolate": "step-after", "color": "#ffcb47", "opacity": 0.14, "clip": true},
  "encoding": {
    "x": {"field": "date", "type": "temporal"},
    "y": {"field": "sent", "type": "quantitative", "scale": {"domain": [-1.65, 2.0], "nice": false, "zero": false}, "axis": null},
    "y2": {"datum": 0}
  }
},
{
  "data": {"values": [{}]},
  "mark": {"type": "rule", "color": "#d9aa3c", "strokeWidth": 1.3, "opacity": 0.85},
  "encoding": {
    "y": {"datum": 0, "type": "quantitative", "scale": {"domain": [-1.65, 2.0], "nice": false, "zero": false}, "axis": null}
  }
},
{
  "data": {"name": "bars"},
  "mark": {"type": "bar", "width": 10, "opacity": 0.86, "clip": true},
  "encoding": {
    "x": {"field": "date", "type": "temporal"},
    "y": {"field": "aa", "type": "quantitative", "scale": {"domain": [33400, 148000], "nice": false, "zero": false},
      "axis": {"orient": "right", "offset": 67, "domain": true, "domainColor": "#ff5b5b", "domainWidth": 1.5, "grid": false, "labelPadding": 8, "labelAlign": "left", "labelBaseline": "middle",
        "values": [33400, 47725, 62050, 76375, 90700, 105025, 119350, 133675, 148000],
        "labelExpr": "['33.4K','47.7K','62.1K','76.4K','90.8K','105K','119K','133K','148K'][round((datum.value-33400)/14325)]"}},
    "y2": {"datum": 33400},
    "color": {"datum": "Active Addresses 24h (DOGE)", "type": "nominal",
      "scale": {"domain": ["Price (DOGE)", "Active Addresses 24h (DOGE)", "Transaction Volume (DOGE)", "Weighted sentiment (Total) (DOGE)"], "range": ["#26c953", "#ff5b5b", "#5275ff", "#ffcb47"]},
      "legend": {"orient": "none", "legendX": 742, "legendY": 815, "direction": "horizontal", "title": null, "symbolType": "square", "symbolSize": 110, "symbolStrokeWidth": 0, "symbolOpacity": 1, "labelFont": "Liberation Sans", "labelFontSize": 18, "labelLimit": 0, "labelColor": "#e8e9ee", "labelOffset": 8, "columnPadding": 27}}
  }
},
{
  "data": {"name": "bars"},
  "mark": {"type": "bar", "width": 10, "opacity": 0.86, "clip": true},
  "encoding": {
    "x": {"field": "date", "type": "temporal"},
    "y": {"field": "vol", "type": "quantitative", "scale": {"domain": [0, 4116900000], "nice": false, "zero": false},
      "axis": {"orient": "right", "offset": 133, "domain": true, "domainColor": "#5275ff", "domainWidth": 1.5, "grid": false, "labelPadding": 9, "labelAlign": "left", "labelBaseline": "middle",
        "values": [0, 514612500, 1029225000, 1543837500, 2058450000, 2573062500, 3087675000, 3602287500, 4116900000],
        "labelExpr": "['0','514.61M','1.02B','1.54B','2.05B','2.57B','3.08B','3.6B','4.11B'][round(datum.value/514612500)]"}},
    "y2": {"datum": 0},
    "color": {"datum": "Transaction Volume (DOGE)", "type": "nominal", "legend": null}
  }
},
{
  "data": {"name": "sent"},
  "mark": {"type": "line", "interpolate": "step-after", "strokeWidth": 2.4, "clip": true},
  "encoding": {
    "x": {"field": "date", "type": "temporal"},
    "y": {"field": "sent", "type": "quantitative", "scale": {"domain": [-1.65, 2.0], "nice": false, "zero": false}, "axis": null},
    "color": {"datum": "Weighted sentiment (Total) (DOGE)", "type": "nominal", "legend": null}
  }
},
{
  "data": {"name": "price"},
  "mark": {"type": "line", "strokeWidth": 2, "clip": true},
  "encoding": {
    "x": {"field": "date", "type": "temporal"},
    "y": {"field": "price", "type": "quantitative", "scale": {"domain": [0.087, 0.255], "nice": false, "zero": false},
      "axis": {"orient": "right", "offset": 0, "domain": true, "domainColor": "#26c953", "domainWidth": 1.5, "grid": true, "labelPadding": 8, "labelAlign": "left", "labelBaseline": "middle",
        "values": [0.087, 0.108, 0.129, 0.15, 0.171, 0.192, 0.213, 0.234, 0.255],
        "labelExpr": "format(datum.value, '.3~f')"}},
    "color": {"datum": "Price (DOGE)", "type": "nominal", "legend": null}
  }
}
],
"resolve": {"scale": {"y": "independent"}}
}
